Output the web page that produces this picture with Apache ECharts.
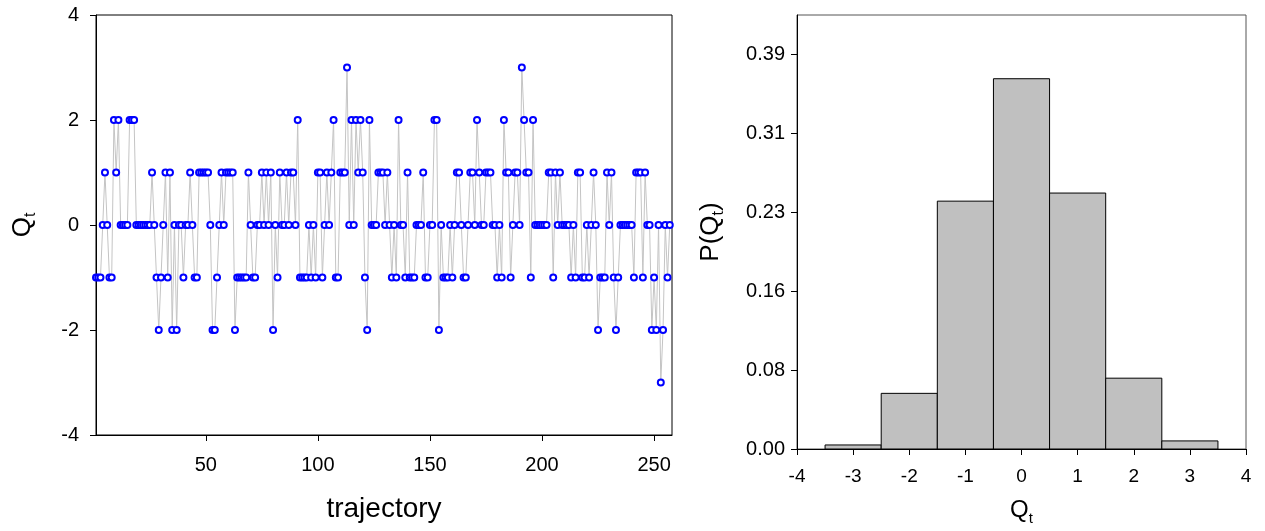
<!DOCTYPE html>
<html><head><meta charset="utf-8">
<script src="https://cdn.jsdelivr.net/npm/echarts@6/dist/echarts.min.js"></script>
<style>html,body{margin:0;padding:0;background:#fff}#c{width:1265px;height:531px}</style>
</head><body><div id="c"></div>
<script>
// topological charge per trajectory (index 1..257)
const trajectoryQ = [
 -1,-1,-1,0,1,0,-1,-1,2,1,
 2,0,0,0,0,2,2,2,0,0,
 0,0,0,0,0,1,0,-1,-2,-1,
 0,1,-1,1,-2,0,-2,0,0,-1,
 0,0,1,0,-1,-1,1,1,1,1,
 1,0,-2,-2,-1,0,1,0,1,1,
 1,1,-2,-1,-1,-1,-1,-1,1,0,
 -1,-1,0,0,1,0,1,0,1,-2,
 0,-1,1,0,0,1,0,1,1,0,
 2,-1,-1,-1,-1,0,-1,0,-1,1,
 1,-1,0,1,0,1,2,-1,-1,1,
 1,1,3,0,2,0,2,1,2,1,
 -1,-2,2,0,0,0,1,1,1,0,
 1,0,-1,0,-1,2,0,0,-1,1,
 -1,-1,-1,0,0,0,1,-1,-1,0,
 0,2,2,-2,0,-1,-1,-1,0,-1,
 0,1,1,0,-1,-1,0,1,1,0,
 2,1,0,0,1,1,1,0,0,-1,
 0,-1,2,1,1,-1,0,1,1,0,
 3,2,1,1,-1,2,0,0,0,0,
 0,0,1,1,-1,1,0,1,0,0,
 0,0,-1,0,-1,1,1,-1,-1,0,
 -1,0,1,0,-2,-1,-1,-1,1,0,
 1,-1,-2,-1,0,0,0,0,0,0,
 -1,1,1,1,-1,1,0,0,-2,-1,
 -2,0,-3,-2,0,-1,0
];
const xTicks = [50, 100, 150, 200, 250];
const qTicks = [-4, -2, 0, 2, 4];
const binCenters = [-3, -2, -1, 0, 1, 2, 3];
const binProb = [0.004, 0.055, 0.245, 0.366, 0.253, 0.070, 0.008];
const histXTicks = [-4, -3, -2, -1, 0, 1, 2, 3, 4];
const histYTicks = [0, 0.078, 0.156, 0.234, 0.312, 0.39];

const font = '"Liberation Sans", Arial, sans-serif';
const chart = echarts.init(document.getElementById('c'));
const lineData = trajectoryQ.map((v, i) => [i + 1, v]);
const histData = binCenters.map((c, i) => [c, binProb[i]]);

const subRich = (big, small) => ({
  q: {fontSize: big, color: '#000', fontFamily: font},
  t: {fontSize: small, color: '#000', fontFamily: font, padding: [16, 0, 0, 0]}
});

chart.setOption({
  animation: false,
  textStyle: {fontFamily: font},
  grid: [
    {left: 96, top: 15, width: 576, height: 420, show: true, borderColor: '#000', borderWidth: 1},
    {left: 797, top: 15, width: 449, height: 434, show: true, borderColor: '#555', borderWidth: 1}
  ],
  xAxis: [
    {
      type: 'value', gridIndex: 0, min: 1, max: 258,
      name: 'trajectory', nameLocation: 'middle', nameGap: 60,
      nameTextStyle: {fontSize: 28, color: '#000', fontFamily: font},
      axisLine: {onZero: false, lineStyle: {color: '#000', width: 1}},
      axisTick: {show: true, customValues: xTicks, length: 6, lineStyle: {color: '#000'}},
      axisLabel: {customValues: xTicks, fontSize: 20, color: '#000', margin: 20, fontFamily: font},
      splitLine: {show: false}
    },
    {
      type: 'value', gridIndex: 1, min: -4, max: 4,
      name: '{q|Q}{t|t}', nameLocation: 'middle', nameGap: 46,
      nameTextStyle: {rich: subRich(24, 15)},
      axisLine: {onZero: false, lineStyle: {color: '#000', width: 1}},
      axisTick: {show: true, customValues: histXTicks, length: 6, lineStyle: {color: '#000'}},
      axisLabel: {customValues: histXTicks, fontSize: 19, color: '#000', margin: 18, fontFamily: font},
      splitLine: {show: false}
    }
  ],
  yAxis: [
    {
      type: 'value', gridIndex: 0, min: -4, max: 4,
      name: '{q|Q}{t|t}', nameLocation: 'middle', nameGap: 57, nameRotate: 90,
      nameTextStyle: {rich: subRich(26, 16)},
      axisLine: {onZero: false, lineStyle: {color: '#000', width: 1}},
      axisTick: {show: true, customValues: qTicks, length: 6, lineStyle: {color: '#000'}},
      axisLabel: {customValues: qTicks, fontSize: 20, color: '#000', margin: 17, fontFamily: font},
      splitLine: {show: false}
    },
    {
      type: 'value', gridIndex: 1, min: 0, max: 0.429,
      name: '{q|P(Q}{t|t}{q|)}', nameLocation: 'middle', nameGap: 70, nameRotate: 90,
      nameTextStyle: {rich: subRich(26, 16)},
      axisLine: {onZero: false, lineStyle: {color: '#000', width: 1}},
      axisTick: {show: true, customValues: histYTicks, length: 6, lineStyle: {color: '#000'}},
      axisLabel: {customValues: histYTicks, fontSize: 20, color: '#000', margin: 12, fontFamily: font,
        formatter: v => v.toFixed(2)},
      splitLine: {show: false}
    }
  ],
  series: [
    {
      type: 'line', xAxisIndex: 0, yAxisIndex: 0, data: lineData,
      symbol: 'emptyCircle', symbolSize: 6, showAllSymbol: true,
      lineStyle: {color: '#c4c4c4', width: 1},
      itemStyle: {color: '#0000ff', borderColor: '#0000ff', borderWidth: 0.9},
      emphasis: {disabled: true}
    },
    {
      type: 'custom', xAxisIndex: 1, yAxisIndex: 1, data: histData,
      renderItem: (params, api) => {
        const c = api.value(0), p = api.value(1);
        const tl = api.coord([c - 0.5, p]);
        const br = api.coord([c + 0.5, 0]);
        return {
          type: 'rect',
          shape: {x: tl[0], y: tl[1], width: br[0] - tl[0], height: br[1] - tl[1]},
          style: {fill: '#c0c0c0', stroke: '#000', lineWidth: 1}
        };
      }
    }
  ]
});
</script></body></html>
